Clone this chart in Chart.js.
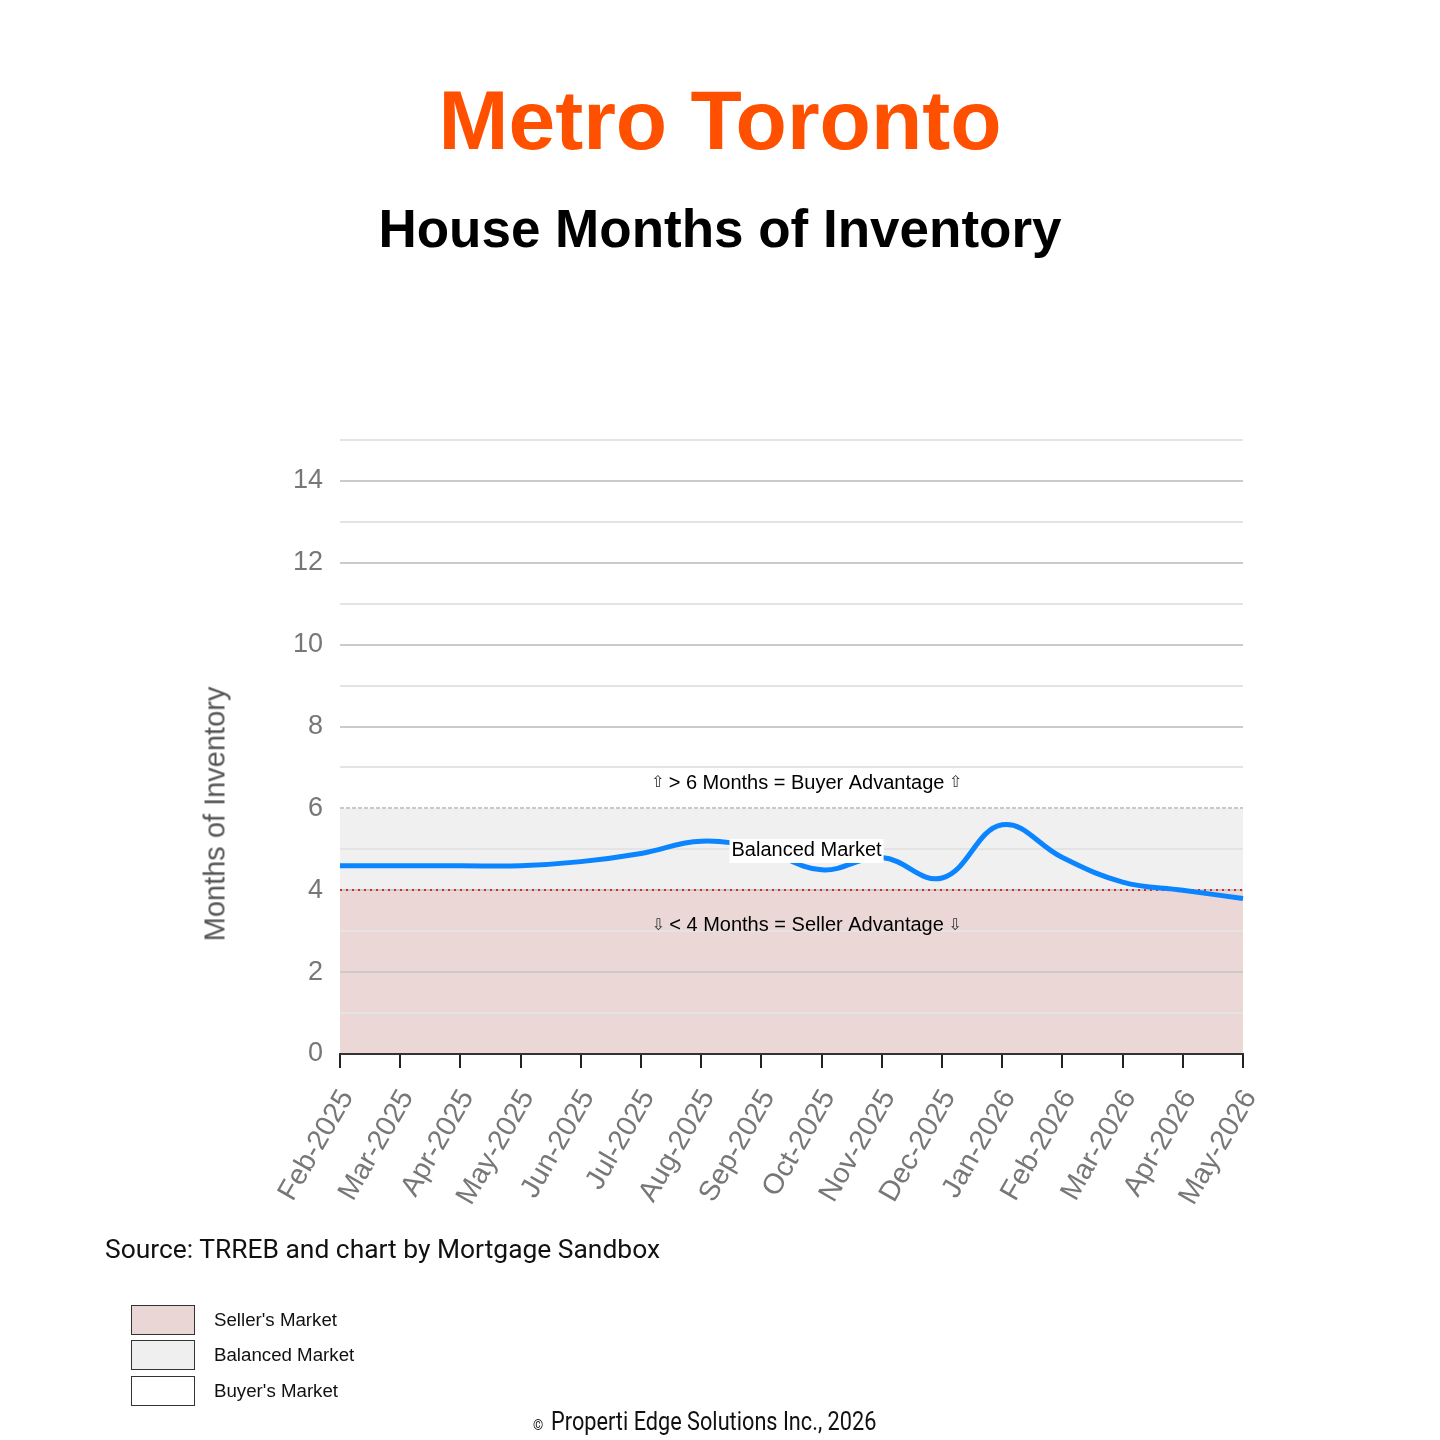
<!DOCTYPE html>
<html>
<head>
<meta charset="utf-8">
<title>Metro Toronto - House Months of Inventory</title>
<script src="https://cdn.jsdelivr.net/npm/chart.js@4.4.1/dist/chart.umd.min.js"></script>
<style>
    body { margin: 0; background: #fff; }
    #wrap { position: relative; width: 1440px; height: 1440px; overflow: hidden; background: #fff; }
    #chart { position: absolute; left: 0; top: 0; }
    .txt { position: absolute; white-space: nowrap; line-height: 1; }
    #title { left: 0; width: 1440px; top: 72px; text-align: center; font: bold 84px "Liberation Sans", Arial, sans-serif; color: #ff5000; }
    #subtitle { left: 0; width: 1440px; top: 198px; text-align: center; font: bold 53px "Liberation Sans", Arial, sans-serif; color: #000; }
    #ytitle { left: 215px; top: 814px; transform: translate(-50%, -50%) rotate(-90deg); font: 29px "Liberation Sans", Arial, sans-serif; color: #555; }
    #source { left: 105px; top: 1234px; font: 26.4px Roboto, sans-serif; color: #111; }
    .box { position: absolute; left: 131px; width: 62px; height: 28px; border: 1px solid #333; }
    .legtxt { position: absolute; left: 214px; font: 18.7px "Liberation Sans", Arial, sans-serif; color: #111; line-height: 1; }
    #copy { left: 533px; top: 1407px; font: 25px Roboto, sans-serif; color: #111; transform-origin: 0 0; }
    #copy span { font-size: 15px; margin-right: 9px; }
</style>
</head>
<body>
<div id="wrap">
    <canvas id="chart" width="1440" height="1440"></canvas>
    <div class="txt" id="title">Metro Toronto</div>
    <div class="txt" id="subtitle">House Months of Inventory</div>
    <div class="txt" id="ytitle">Months of Inventory</div>
    <div class="txt" id="source">Source: TRREB and chart by Mortgage Sandbox</div>
    <div class="box" style="top:1305px;background:#ebd6d6;"></div>
    <div class="box" style="top:1340px;background:#efefef;"></div>
    <div class="box" style="top:1376px;background:#fff;"></div>
    <div class="legtxt" style="top:1311px;">Seller's Market</div>
    <div class="legtxt" style="top:1346px;">Balanced Market</div>
    <div class="legtxt" style="top:1382px;">Buyer's Market</div>
    <div class="txt" id="copy"><span>©</span>Properti Edge Solutions Inc., 2026</div>
</div>
<script>
var months = ['Feb-2025', 'Mar-2025', 'Apr-2025', 'May-2025', 'Jun-2025', 'Jul-2025', 'Aug-2025', 'Sep-2025',
              'Oct-2025', 'Nov-2025', 'Dec-2025', 'Jan-2026', 'Feb-2026', 'Mar-2026', 'Apr-2026', 'May-2026'];
var inventory = [4.6, 4.6, 4.6, 4.6, 4.7, 4.9, 5.2, 5.0, 4.5, 4.8, 4.3, 5.6, 4.8, 4.2, 4.0, 3.8];
var yMin = 0;
var yMax = 15;
var sellerLimit = 4;
var buyerLimit = 6;
var zoneLabels = ['> 6 Months = Buyer Advantage', 'Balanced Market', '< 4 Months = Seller Advantage'];

var font = '"Liberation Sans", Arial, sans-serif';
var chart = null;

// zones are painted under the grid, notes on top of the line
var marketZones = {
    id: 'marketZones',
    beforeDraw: function(c) {
        var ctx = c.ctx, a = c.chartArea, y = c.scales.y;
        var y0 = y.getPixelForValue(yMin);
        var y4 = y.getPixelForValue(sellerLimit);
        var y6 = y.getPixelForValue(buyerLimit);
        ctx.save();
        ctx.fillStyle = '#ecd7d7';
        ctx.fillRect(a.left, y4, a.right - a.left, y0 - y4);
        ctx.fillStyle = '#f0f0f0';
        ctx.fillRect(a.left, y6, a.right - a.left, y4 - y6);
        ctx.restore();
    },
    beforeDatasetsDraw: function(c) {
        var ctx = c.ctx, a = c.chartArea, y = c.scales.y;
        var y4 = Math.round(y.getPixelForValue(sellerLimit));
        var y6 = Math.round(y.getPixelForValue(buyerLimit));
        ctx.save();
        ctx.strokeStyle = '#c9c9c9';
        ctx.lineWidth = 2;
        ctx.setLineDash([4, 2]);
        ctx.beginPath();
        ctx.moveTo(a.left, y6);
        ctx.lineTo(a.right, y6);
        ctx.stroke();
        ctx.strokeStyle = '#d42a2a';
        ctx.lineWidth = 2;
        ctx.setLineDash([2, 4]);
        ctx.beginPath();
        ctx.moveTo(a.left, y4);
        ctx.lineTo(a.right, y4);
        ctx.stroke();
        ctx.restore();
    },
    afterDatasetsDraw: function(c) {
        var ctx = c.ctx, x = c.scales.x, y = c.scales.y;
        var cx = x.getPixelForValue(7.75);
        var rows = [
            { text: zoneLabels[0], v: 6.62, up: '\u21E7' },
            { text: zoneLabels[1], v: 4.96, box: true },
            { text: zoneLabels[2], v: 3.13, up: '\u21E9' }
        ];
        ctx.save();
        ctx.textAlign = 'center';
        ctx.textBaseline = 'middle';
        rows.forEach(function(r) {
            var py = y.getPixelForValue(r.v);
            ctx.font = '20px ' + font;
            var w = ctx.measureText(r.text).width;
            if (r.box) {
                ctx.fillStyle = '#fff';
                ctx.fillRect(cx - w / 2 - 2, py - 12, w + 4, 24);
            }
            ctx.fillStyle = '#000';
            ctx.fillText(r.text, cx, py);
            if (r.up) {
                ctx.font = '16px "DejaVu Sans", ' + font;
                ctx.fillStyle = '#333';
                ctx.fillText(r.up, cx - w / 2 - 11, py);
                ctx.fillText(r.up, cx + w / 2 + 11, py);
            }
        });
        ctx.restore();
    }
};

function drawChart() {
    var ctx = document.getElementById('chart').getContext('2d');
    Chart.defaults.font.family = font;

    if (chart != null) {
        chart.destroy();
    }

    chart = new Chart(ctx, {
        type: 'line',
        data: {
            labels: months,
            datasets: [{
                label: 'Months of Inventory',
                data: inventory,
                borderColor: '#0a84ff',
                borderWidth: 5,
                tension: 0.4,
                pointRadius: 0,
                fill: false
            }]
        },
        options: {
            responsive: false,
            animation: false,
            devicePixelRatio: 1,
            layout: { padding: { left: 0, top: 440, right: 197, bottom: 0 } },
            plugins: {
                legend: { display: false },
                tooltip: { enabled: false }
            },
            scales: {
                x: {
                    offset: false,
                    afterFit: function(s) { s.height = 386; },
                    border: { display: true, color: '#333', width: 2 },
                    grid: { drawOnChartArea: false, drawTicks: true, tickLength: 14, color: '#222', lineWidth: 2 },
                    ticks: {
                        color: '#777',
                        font: { size: 28.5 },
                        minRotation: 60,
                        maxRotation: 60,
                        padding: 16,
                        labelOffset: 7,
                        autoSkip: false
                    }
                },
                y: {
                    min: yMin,
                    max: yMax,
                    afterFit: function(s) { s.width = 340; },
                    border: { display: false },
                    grid: {
                        drawTicks: false,
                        lineWidth: 2,
                        color: function(c) {
                            if (c.tick.value === buyerLimit || c.tick.value === yMin) return 'rgba(0,0,0,0)';
                            return c.tick.value % 2 === 0 ? '#cbcbcb' : '#e4e4e4';
                        }
                    },
                    ticks: {
                        stepSize: 1,
                        color: '#777',
                        font: { size: 27 },
                        padding: 17,
                        callback: function(v) { return v % 2 === 0 ? v : ''; }
                    }
                }
            }
        },
        plugins: [marketZones]
    });
}

function fitCopyright() {
    var el = document.getElementById('copy');
    var s = 343 / el.offsetWidth;
    el.style.transform = 'scaleX(' + s + ')';
}

window.addEventListener('load', function() {
    drawChart();
    fitCopyright();
});
</script>
</body>
</html>
